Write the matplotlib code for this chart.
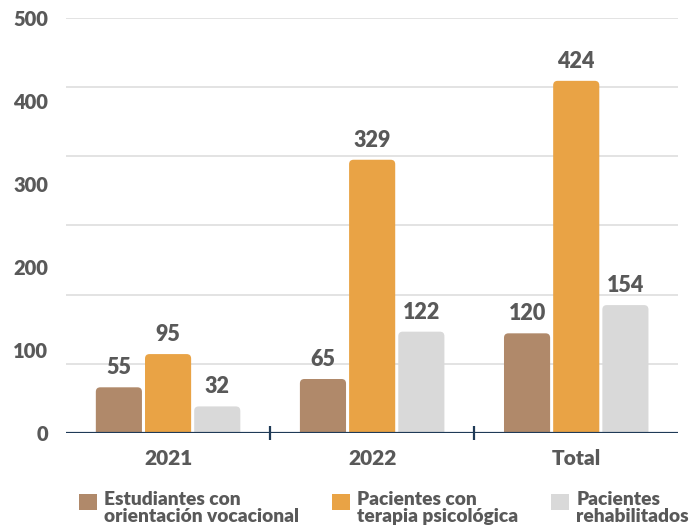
import numpy as np
import matplotlib.pyplot as plt
from matplotlib.patches import FancyBboxPatch, Patch, Rectangle
from matplotlib.legend_handler import HandlerPatch

plt.rcParams['font.family'] = ['Lato', 'DejaVu Sans']
plt.rcParams['font.weight'] = 'heavy'

groups = ['2021', '2022', 'Total']
series = ['Estudiantes con\norientación vocacional',
          'Pacientes con\nterapia psicológica',
          'Pacientes\nrehabilitados']
estudiantes = [55, 65, 120]
terapia = [95, 329, 424]
rehabilitados = [32, 122, 154]
yticks = [0, 100, 200, 300, 400, 500]

colors = ['#B0896A', '#E9A345', '#D9D9D9']
text_color = '#595959'
axis_color = '#1F3A57'
W = 'heavy'

fig = plt.figure(figsize=(6.9, 5.29), dpi=100)
ax = fig.add_axes([0.0957, 0.1815, 0.8873, 0.785])

ymax = 500
ax.set_xlim(-0.5, 2.5)
ax.set_ylim(0, ymax)

# horizontal grid, split into six bands
for g in np.linspace(0, ymax, 7)[1:]:
    ax.axhline(g, color='#E3E3E3', lw=1.4, zorder=0)

width = 0.226
gap = 0.015
data = [estudiantes, terapia, rehabilitados]
x = np.arange(len(groups))
# mutation_aspect keeps the corner rounding circular in data space
aspect = (ymax / (0.785 * 529)) / (3 / (0.8873 * 690))
for i, vals in enumerate(data):
    offs = (i - 1) * (width + gap)
    for xi, v in zip(x, vals):
        left = xi + offs - width / 2
        box = FancyBboxPatch((left, -10), width, v + 10,
                             boxstyle='round,pad=0,rounding_size=0.022',
                             mutation_aspect=aspect,
                             fc=colors[i], ec='none', zorder=2)
        ax.add_patch(box)
        ax.text(xi + offs, v + 11, str(v), ha='center', va='bottom',
                fontsize=15.5, color=text_color, fontweight=W)

ax.axhline(0, color=axis_color, lw=2.3, zorder=3)

for s in ax.spines.values():
    s.set_visible(False)

ax.set_yticks(yticks)
ax.set_yticklabels([str(t) for t in yticks], fontweight=W)
ax.tick_params(axis='y', length=0, pad=13, labelsize=14.5, labelcolor=text_color)

ax.set_xticks([0.5, 1.5])
ax.set_xticklabels([])
ax.set_xticks(x, minor=True)
ax.set_xticklabels(groups, minor=True, fontweight=W)
ax.tick_params(axis='x', which='major', direction='inout', length=9.5,
               width=1.6, color=axis_color)
ax.tick_params(axis='x', which='minor', length=0, pad=11.5, labelsize=15,
               labelcolor=text_color)


class TopSquare(HandlerPatch):
    # legend swatch lined up with the first line of a two-line label
    def create_artists(self, legend, orig_handle, xdescent, ydescent,
                       width, height, fontsize, trans):
        size = 0.83 * fontsize
        y0 = 0.25 * fontsize
        r = Rectangle((-xdescent, y0), width, size,
                      fc=orig_handle.get_facecolor(), ec='none',
                      transform=trans)
        return [r]


handles = [Patch(fc=c, ec='none') for c in colors]
leg = ax.legend(handles, series, ncol=3, loc='upper left',
                bbox_to_anchor=(0.021, -0.14), frameon=False,
                prop={'size': 13.8, 'weight': W}, labelcolor=text_color,
                handlelength=0.93, handleheight=1.1, handletextpad=0.38,
                columnspacing=1.72, borderaxespad=0, borderpad=0,
                labelspacing=0, handler_map={Patch: TopSquare()})
for t in leg.get_texts():
    t.set_multialignment('left')
    t.set_linespacing(1.0)

fig.savefig('out.png', dpi=100)
